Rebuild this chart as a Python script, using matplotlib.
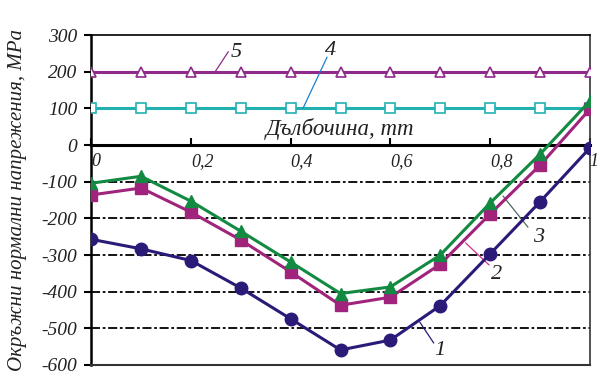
import numpy as np
import matplotlib
matplotlib.use('Agg')
from matplotlib import pyplot as plt

# depth, mm
depth = [0, 0.1, 0.2, 0.3, 0.4, 0.5, 0.6, 0.7, 0.8, 0.9, 1.0]
# circumferential normal stresses, MPa
s1 = [-257, -283, -315, -390, -474, -559, -532, -438, -297, -155, -8]
s2 = [-136, -117, -183, -259, -346, -437, -415, -325, -188, -55, 98]
s3 = [-104, -85, -153, -235, -319, -405, -387, -300, -158, -25, 120]
s4 = [100] * 11
s5 = [200] * 11
xticks = [0, 0.2, 0.4, 0.6, 0.8, 1]
xticklabels = ['0', '0,2', '0,4', '0,6', '0,8', '1']
yticks = [300, 200, 100, 0, -100, -200, -300, -400, -500, -600]
gridlevels = [-100, -200, -300, -400, -500]

plt.rcParams['font.family'] = ['Liberation Serif', 'DejaVu Serif']
plt.rcParams['font.style'] = 'italic'
plt.rcParams['axes.unicode_minus'] = False

fig = plt.figure(figsize=(6.0, 3.91), dpi=100)
ax = fig.add_axes([0.152, 0.0665, 0.831, 0.8435])

# dash-dot grid below zero
for g in gridlevels:
    ax.axhline(g, color='black', lw=1.3, ls=(0, (5, 1.5, 1.5, 1.5)), zorder=1)

ax.plot(depth, s5, color='#8e2a8a', lw=2.2, marker='^', ms=7,
        mfc='white', mec='#8e2a8a', mew=1.2, zorder=3)
ax.plot(depth, s4, color='#22b0b0', lw=2.2, marker='s', ms=7,
        mfc='white', mec='#22b0b0', mew=1.2, zorder=3)
ax.plot(depth, s1, color='#2b1a78', lw=2.2, marker='o', ms=9, zorder=4)
ax.plot(depth, s2, color='#a0237c', lw=2.2, marker='s', ms=9, zorder=4)
ax.plot(depth, s3, color='#138a42', lw=2.2, marker='^', ms=8, zorder=5)

ax.set_xlim(0, 1)
ax.set_ylim(-600, 300)

# horizontal axis through zero
ax.spines['bottom'].set_position(('data', 0))
ax.spines['bottom'].set_linewidth(2.2)
ax.spines['left'].set_linewidth(1.8)
ax.spines['top'].set_linewidth(1.2)
ax.spines['right'].set_linewidth(1.2)
ax.spines['right'].set_color('#333333')
ax.axhline(-600, color='#333333', lw=1.5, clip_on=False, zorder=6)

ax.set_xticks(xticks)
ax.set_xticklabels(xticklabels)
ax.tick_params(axis='x', direction='in', length=5, width=1.5, pad=6,
               labelsize=13, labelcolor='#222222')
ax.set_yticks(yticks)
ax.set_yticklabels([str(v) for v in yticks])
ax.tick_params(axis='y', direction='out', length=5, width=1.5, pad=5,
               labelsize=14, labelcolor='#222222')
for lbl in ax.get_xticklabels():
    lbl.set_horizontalalignment('left')
    lbl.set_fontstyle('italic')
for lbl in ax.get_yticklabels():
    lbl.set_fontstyle('italic')

ax.text(0.35, 45, 'Дълбочина, mm', fontsize=16.5, va='center', ha='left',
        color='#222222')
ax.set_ylabel('Окръжни нормални напрежения, MPa', fontsize=15,
              color='#222222')
ax.yaxis.set_label_coords(-0.128, 0.5)

# curve labels with leader lines
labels = [('5', (0.248, 199), (0.275, 255), (0.290, 253), '#8e2a8a'),
          ('4', (0.425, 101), (0.473, 240), (0.480, 258), '#1a80d0'),
          ('3', (0.826, -139), (0.876, -224), (0.898, -252), '#4a6a60'),
          ('2', (0.751, -267), (0.798, -327), (0.812, -352), '#d0308a'),
          ('1', (0.659, -483), (0.687, -540), (0.700, -560), '#2b1a78')]
for txt, p0, p1, pt, col in labels:
    ax.annotate('', xy=p0, xytext=p1,
                arrowprops=dict(arrowstyle='-', color=col, lw=0.9,
                                shrinkA=0, shrinkB=0))
    ax.text(pt[0], pt[1], txt, fontsize=16, ha='center', va='center',
            color='#222222')

fig.savefig('out.png', dpi=100)
